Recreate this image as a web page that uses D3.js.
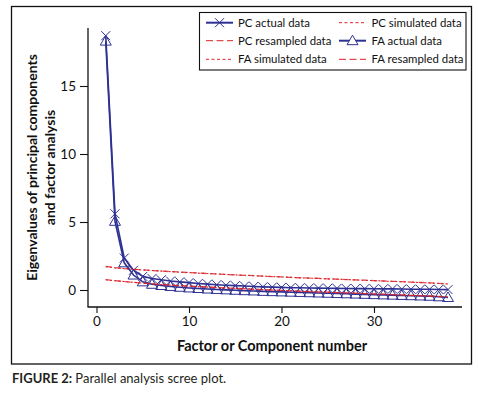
<!DOCTYPE html>
<html><head><meta charset="utf-8">
<script src="https://cdn.jsdelivr.net/npm/d3@7/dist/d3.min.js"></script>
<style>
body{margin:0;background:#fff;}
svg{display:block;font-family:Lato,"Open Sans",sans-serif;}
</style></head>
<body>
<svg id="c" width="478" height="397"></svg>
<script>
const factors = d3.range(1, 39);
const pcActual = [18.7,5.6,2.35,1.45,1.0,0.85,0.75,0.66,0.6,0.54,0.48,0.43,0.39,0.35,0.32,0.29,0.26,0.23,0.21,0.19,0.17,0.16,0.15,0.14,0.13,0.12,0.11,0.1,0.1,0.09,0.08,0.08,0.07,0.06,0.05,0.05,0.04,0.03];
const faActual = [18.3,5.05,2.0,1.1,0.6,0.42,0.33,0.26,0.2,0.15,0.11,0.07,0.04,0.01,-0.02,-0.05,-0.07,-0.1,-0.12,-0.14,-0.16,-0.18,-0.2,-0.22,-0.24,-0.26,-0.28,-0.3,-0.32,-0.34,-0.36,-0.38,-0.4,-0.42,-0.44,-0.46,-0.5,-0.55];
const pcSimulated = [1.72,1.63,1.57,1.52,1.47,1.43,1.39,1.35,1.31,1.28,1.24,1.21,1.18,1.14,1.11,1.08,1.05,1.02,0.99,0.96,0.93,0.9,0.87,0.85,0.82,0.79,0.77,0.74,0.71,0.69,0.66,0.63,0.61,0.58,0.55,0.52,0.48,0.44];
const pcResampled = [1.74,1.64,1.58,1.52,1.48,1.43,1.39,1.35,1.32,1.28,1.25,1.21,1.18,1.15,1.11,1.08,1.05,1.02,0.99,0.96,0.93,0.9,0.88,0.85,0.82,0.8,0.77,0.74,0.72,0.69,0.66,0.64,0.61,0.58,0.55,0.52,0.49,0.45];
const faSimulated = [0.75,0.68,0.62,0.56,0.5,0.45,0.4,0.36,0.32,0.28,0.25,0.21,0.18,0.15,0.12,0.09,0.06,0.03,0.0,-0.03,-0.06,-0.09,-0.12,-0.14,-0.17,-0.19,-0.22,-0.24,-0.27,-0.29,-0.32,-0.34,-0.37,-0.39,-0.42,-0.45,-0.48,-0.52];
const faResampled = [0.76,0.69,0.62,0.56,0.51,0.45,0.41,0.36,0.32,0.29,0.25,0.22,0.18,0.15,0.12,0.09,0.06,0.03,0.0,-0.03,-0.06,-0.09,-0.11,-0.14,-0.16,-0.19,-0.21,-0.24,-0.26,-0.29,-0.31,-0.34,-0.36,-0.39,-0.42,-0.44,-0.47,-0.51];
const xTicks = [0,10,20,30];
const yTicks = [0,5,10,15];
const legendLabels = ["PC actual data","PC simulated data","PC resampled data","FA actual data","FA simulated data","FA resampled data"];

const NAVY = "#2e3192", RED = "#dc2128";
const svg = d3.select("#c");

// outer frame
svg.append("rect").attr("x",11.5).attr("y",6.5).attr("width",460).attr("height",357.5)
  .attr("fill","none").attr("stroke","#111").attr("stroke-width",1.3);

const x = d3.scaleLinear().domain([0,30]).range([96.5,374]);
const y = d3.scaleLinear().domain([0,15]).range([290,86]);
const xMin = x.invert(87.5), xMax = x.invert(462), yMin = y.invert(307), yMax = y.invert(28);

// axes
const gx = svg.append("g").attr("transform",`translate(0,${y(yMin)})`)
  .call(d3.axisBottom(x).tickValues(xTicks).tickSize(6).tickSizeOuter(0).tickPadding(3));
gx.select(".domain").remove();
gx.append("line").attr("x1",x(xMin)).attr("x2",x(xMax)).attr("stroke","#111").attr("stroke-width",1.3);
const gy = svg.append("g").attr("transform",`translate(${x(xMin)+0.5},0)`)
  .call(d3.axisLeft(y).tickValues(yTicks).tickSize(8).tickSizeOuter(0).tickPadding(4));
gy.select(".domain").remove();
gy.append("line").attr("y1",y(yMin)).attr("y2",y(yMax)).attr("stroke","#111").attr("stroke-width",1.3);
svg.selectAll(".tick line").attr("stroke","#111").attr("stroke-width",1.1);
svg.selectAll(".tick text").attr("font-family","Lato, sans-serif").attr("font-size",13.5).attr("fill","#111");

// axis titles
svg.append("text").attr("x",272).attr("y",351).attr("text-anchor","middle")
  .attr("font-weight","bold").attr("font-size",14.5).attr("fill","#111").text("Factor or Component number");
const yl = svg.append("text").attr("transform","translate(37,167.5) rotate(-90)")
  .attr("text-anchor","middle").attr("font-weight","bold").attr("font-size",14).attr("fill","#111");
yl.append("tspan").attr("x",0).attr("y",0).text("Eigenvalues of principal components");
yl.append("tspan").attr("x",0).attr("y",17.5).text("and factor analysis");

// caption
const cap = svg.append("text").attr("x",12).attr("y",383).attr("font-size",13).attr("fill","#231f20");
cap.append("tspan").attr("font-weight","bold").text("FIGURE 2: ");
cap.append("tspan").text("Parallel analysis scree plot.");

const line = d3.line().x((d,i)=>x(factors[i])).y(d=>y(d));
const DOT = "2,2.2", DASH = "6,3.5";

function drawLine(data, color, width, dash, op){
  svg.append("path").datum(data).attr("d",line).attr("fill","none")
    .attr("stroke",color).attr("stroke-width",width).attr("stroke-opacity",op||1)
    .attr("stroke-dasharray",dash||null);
}
const crossPath = "M-4.5,-4.5L4.5,4.5M-4.5,4.5L4.5,-4.5";
const triPath = "M0,-5.5L5.5,4L-5.5,4Z";
function drawMarks(data, path){
  svg.append("g").selectAll("path").data(data).join("path")
    .attr("transform",(d,i)=>`translate(${x(factors[i])},${y(d)})`)
    .attr("d",path).attr("fill","none").attr("stroke",NAVY).attr("stroke-width",1);
}

drawLine(pcActual, NAVY, 1.6);
drawMarks(pcActual, crossPath);
drawLine(pcSimulated, RED, 1.1, DOT);
drawLine(pcResampled, RED, 1.3, DASH, 0.8);
drawLine(faActual, NAVY, 1.6);
drawMarks(faActual, triPath);
drawLine(faSimulated, RED, 1.1, DOT);
drawLine(faResampled, RED, 1.3, DASH, 0.8);

// legend
svg.append("rect").attr("x",199.5).attr("y",12.5).attr("width",266.5).attr("height",57.5)
  .attr("fill","#fff").attr("stroke","#111").attr("stroke-width",1.1);
const rows = [22.7, 40.7, 59.3];
const items = [
  {c:0,r:0,type:"cross"},{c:1,r:0,type:"dot"},
  {c:0,r:1,type:"dash"},{c:1,r:1,type:"tri"},
  {c:0,r:2,type:"dot"},{c:1,r:2,type:"dash"}
];
const colX = [206, 339], textX = [238, 371.5];
items.forEach((it,i)=>{
  const x0 = colX[it.c], x1 = x0+27, yy = rows[it.r];
  const g = svg.append("g");
  if(it.type==="cross"||it.type==="tri"){
    g.append("line").attr("x1",x0).attr("x2",x1).attr("y1",yy).attr("y2",yy).attr("stroke",NAVY).attr("stroke-width",2);
    g.append("path").attr("transform",`translate(${(x0+x1)/2},${yy})`).attr("d",it.type==="cross"?crossPath:triPath)
      .attr("fill","#fff").attr("stroke",NAVY).attr("stroke-width",1);
  } else {
    g.append("line").attr("x1",x0).attr("x2",x1).attr("y1",yy).attr("y2",yy).attr("stroke",RED).attr("stroke-width",1)
      .attr("stroke-dasharray",it.type==="dot"?"3,2.5":"7,3.5");
  }
  g.append("text").attr("x",textX[it.c]).attr("y",yy+4).attr("font-size",11.4).attr("fill","#111").text(legendLabels[i]);
});
</script>
</body></html>
